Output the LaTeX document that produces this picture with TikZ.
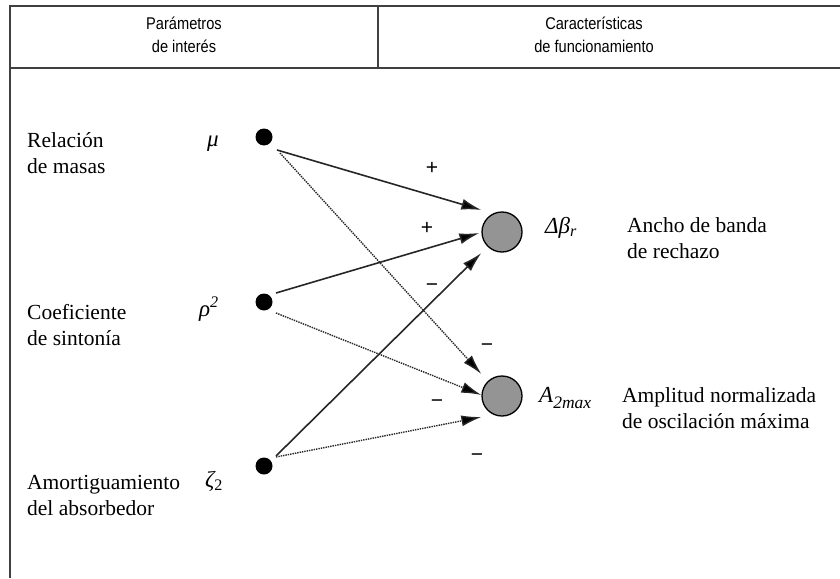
\documentclass[tikz,border=0pt]{standalone}
\usepackage{fontspec}
\setmainfont{Liberation Serif}
\newfontfamily\headfont[FakeStretch=0.86]{Liberation Sans}
\newfontfamily\signfont{Liberation Sans}
\usetikzlibrary{arrows.meta}

\begin{document}
\begin{tikzpicture}[x=1pt,y=-1pt,
  frame/.style={line width=2pt, draw=black!75},
  head/.style={font=\headfont\fontsize{17}{23}\selectfont, align=center, inner sep=0pt},
  lbl/.style={font=\fontsize{21.5}{26}\selectfont, align=left, anchor=base west, inner sep=0pt},
  sym/.style={font=\fontsize{23}{26}\selectfont\itshape, inner sep=0pt},
  src/.style={circle, fill=black, minimum size=17pt, inner sep=0pt},
  dst/.style={circle, draw=black, line width=1.3pt, fill=black!42, minimum size=40pt, inner sep=0pt},
  posarrow/.style={line width=1.6pt, draw=black!85, -{Latex[length=20pt,width=11pt,fill=black]}},
  negarrow/.style={line width=1.4pt, densely dotted, draw=black!85, -{Latex[length=20pt,width=11pt,fill=black]}},
  sgn/.style={font=\signfont\fontsize{21}{21}\selectfont, inner sep=0pt},
]
\useasboundingbox (0,0) rectangle (840,578);

% table frame and header
\draw[frame] (10,578) -- (10,6) -- (840,6);
\draw[frame] (10,68) -- (840,68);
\draw[frame] (378,6) -- (378,68);
\node[head] (hP) at (184,35) {Parámetros\\de interés};
\node[head] (hC) at (594,35) {Características\\de funcionamiento};

% parameters
\node[src] (mu) at (264,137) {};
\node[src] (rho) at (264,302) {};
\node[src] (zeta) at (264,466) {};
\node[sym] (smu) at (213,144) {μ};
\node[sym] (srho) at (209,309) {ρ\textsuperscript{2}};
\node[sym] (szeta) at (214,481) {ζ\textsubscript{\upshape 2}};
\node[lbl] (lmu) at (27,173) {Relación\\de masas};
\node[lbl] (lrho) at (27,345) {Coeficiente\\de sintonía};
\node[lbl] (lzeta) at (27,515) {Amortiguamiento\\del absorbedor};

% performance characteristics
\node[dst] (db) at (502,232) {};
\node[dst] (am) at (502,396) {};
\node[sym, anchor=base west] (sdb) at (545,233) {Δβ\textsubscript{r}};
\node[sym, anchor=base west] (sam) at (539,402) {A\raisebox{-0.28em}{\fontsize{17.5}{17.5}\selectfont 2max}};
\node[lbl] (ldb) at (627,258) {Ancho de banda\\de rechazo};
\node[lbl] (lam) at (622,428) {Amplitud normalizada\\de oscilación máxima};

% influences
\draw[posarrow] ([shift={(13,13)}]mu.center) -- ([shift={(0,-22)}]db.west);
\draw[negarrow] ([shift={(16,16)}]mu.center) -- ([shift={(0,-22)}]am.west);
\draw[posarrow] ([shift={(12,-9)}]rho.center) -- ([shift={(-2,1)}]db.west);
\draw[negarrow] ([shift={(12,11)}]rho.center) -- ([shift={(0,-1)}]am.west);
\draw[posarrow] ([shift={(12,-10)}]zeta.center) -- ([shift={(0,21)}]db.west);
\draw[negarrow] ([shift={(12,-9)}]zeta.center) -- ([shift={(0,21)}]am.west);

% signs
\node[sgn] (s1) at (432,168) {+};
\node[sgn] (s2) at (427,228) {+};
\node[sgn] (s3) at (432,288) {−};
\node[sgn] (s4) at (487,348) {−};
\node[sgn] (s5) at (437,404) {−};
\node[sgn] (s6) at (477,458) {−};
\end{tikzpicture}
\end{document}
